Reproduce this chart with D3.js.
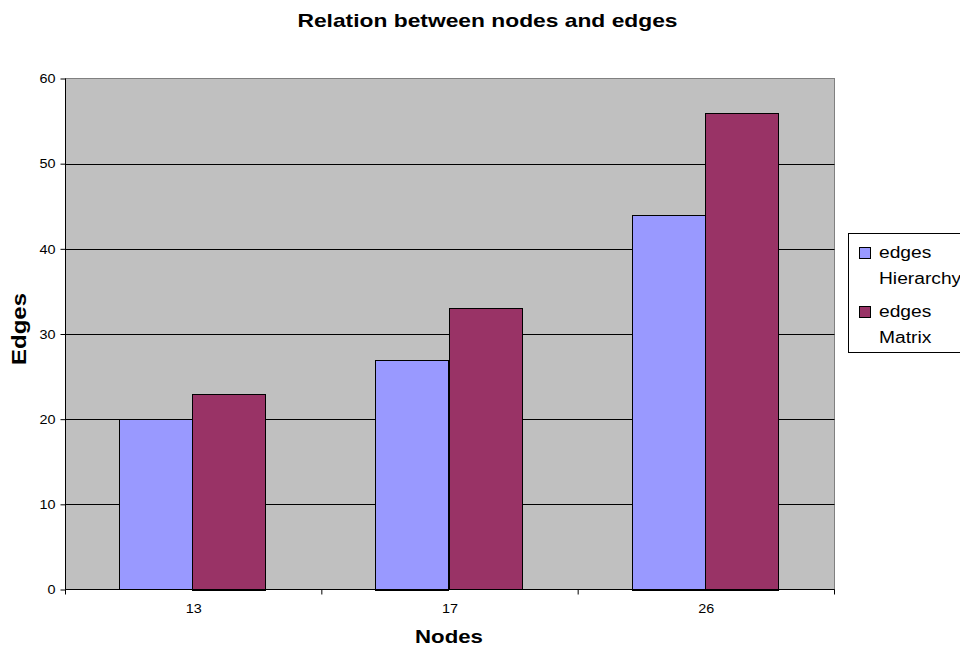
<!DOCTYPE html>
<html><head><meta charset="utf-8">
<script src="https://cdn.jsdelivr.net/npm/d3@7"></script>
<style>body{margin:0;background:#fff}svg{display:block;font-family:"Liberation Sans",Arial,sans-serif}</style>
</head><body>
<svg id="c" width="960" height="648"></svg>
<script>
const categories = ["13", "17", "26"];
const seriesNames = ["edges Hierarchy", "edges Matrix"];
const legendLines = [["edges", "Hierarchy"], ["edges", "Matrix"]];
const hierarchy = [20, 27, 44];
const matrix = [23, 33, 56];
const yTicks = [0, 10, 20, 30, 40, 50, 60];
const colors = ["#9999FF", "#993366"];
const title = "Relation between nodes and edges";
const xTitle = "Nodes", yTitle = "Edges";

const svg = d3.select("#c");
const STRETCH = 1.2;
function stretch(sel){ sel.each(function(){ const w=this.getComputedTextLength(); this.setAttribute("textLength", w*STRETCH); this.setAttribute("lengthAdjust","spacingAndGlyphs"); }); }

const L=65.5, R=834.5, T=78.5, B=589.5;
const x = d3.scaleBand().domain(categories).range([L, R]).padding(0);
const gap = x.bandwidth()/3.5*1.5;
const xi = d3.scaleBand().domain(seriesNames).range([gap/2, x.bandwidth()-gap/2]).padding(0);
const y = d3.scaleLinear().domain([0, 60]).range([B, T]);

// plot area
svg.append("rect").attr("x",L).attr("y",T).attr("width",R-L).attr("height",B-T).attr("fill","#C0C0C0").attr("stroke","#808080").attr("stroke-width",1);

// gridlines
svg.append("g").selectAll("line").data(yTicks.filter(d=>d>0 && d<60)).join("line")
  .attr("x1",L).attr("x2",R).attr("y1",d=>Math.round(y(d))+0.5).attr("y2",d=>Math.round(y(d))+0.5).attr("stroke","#000").attr("stroke-width",1);

// bars
const data = categories.map((c,i)=>({c, vals:[hierarchy[i], matrix[i]]}));
const g = svg.append("g");
data.forEach(d=>{
  d.vals.forEach((v,j)=>{
    g.append("rect").attr("x",Math.floor(x(d.c)+xi(seriesNames[j]))-0.5).attr("y",Math.round(y(v))+0.5)
     .attr("width",Math.round(xi.bandwidth())).attr("height",Math.round(y(0)-y(v)))
     .attr("fill",colors[j]).attr("stroke","#000").attr("stroke-width",1);
  });
});

// y axis
const ya = svg.append("g").attr("transform",`translate(${L},0)`)
  .call(d3.axisLeft(y).tickValues(yTicks).tickSize(5).tickPadding(5));
ya.select(".domain").attr("stroke","#000").attr("d",`M0,${T}V${B}`);
ya.selectAll("line").attr("stroke","#000");
ya.selectAll("text").attr("font-size","12px").attr("fill","#000").attr("font-family","Liberation Sans, Arial").attr("dy","0.36em").call(stretch);

// x axis
const xa = svg.append("g").attr("transform",`translate(0,${B})`);
xa.append("line").attr("x1",L).attr("x2",R).attr("stroke","#000");
const bounds = categories.map(c=>x(c)).concat([x(categories[categories.length-1])+x.bandwidth()]);
xa.selectAll(".tk").data(bounds).join("line").attr("x1",d=>d).attr("x2",d=>d).attr("y1",0).attr("y2",5).attr("stroke","#000");
xa.selectAll("text").data(categories).join("text").attr("x",d=>x(d)+x.bandwidth()/2).attr("y",23)
  .attr("text-anchor","middle").attr("font-size","12px").text(d=>d).call(stretch);

// titles
svg.append("text").attr("x",487.5).attr("y",27).attr("text-anchor","middle").attr("font-weight","bold").attr("font-size","19px").text(title).call(stretch);
svg.append("text").attr("x",449).attr("y",643).attr("text-anchor","middle").attr("font-weight","bold").attr("font-size","18.5px").text(xTitle).call(stretch);
svg.append("text").attr("transform","translate(26,329) rotate(-90)").attr("text-anchor","middle").attr("font-weight","bold").attr("font-size","20px").text(yTitle).call(stretch);

// legend
const lg = svg.append("g");
lg.append("rect").attr("x",848.5).attr("y",233.5).attr("width",130).attr("height",119).attr("fill","#fff").attr("stroke","#000");
legendLines.forEach((lines,j)=>{
  const top = 247 + j*59;
  lg.append("rect").attr("x",859.5).attr("y",top+0.5).attr("width",11).attr("height",11).attr("fill",colors[j]).attr("stroke","#000");
  lines.forEach((t,k)=>{
    lg.append("text").attr("x",879).attr("y",top+11+k*26).attr("font-size","16px").text(t).call(stretch);
  });
});
</script>
</body></html>
